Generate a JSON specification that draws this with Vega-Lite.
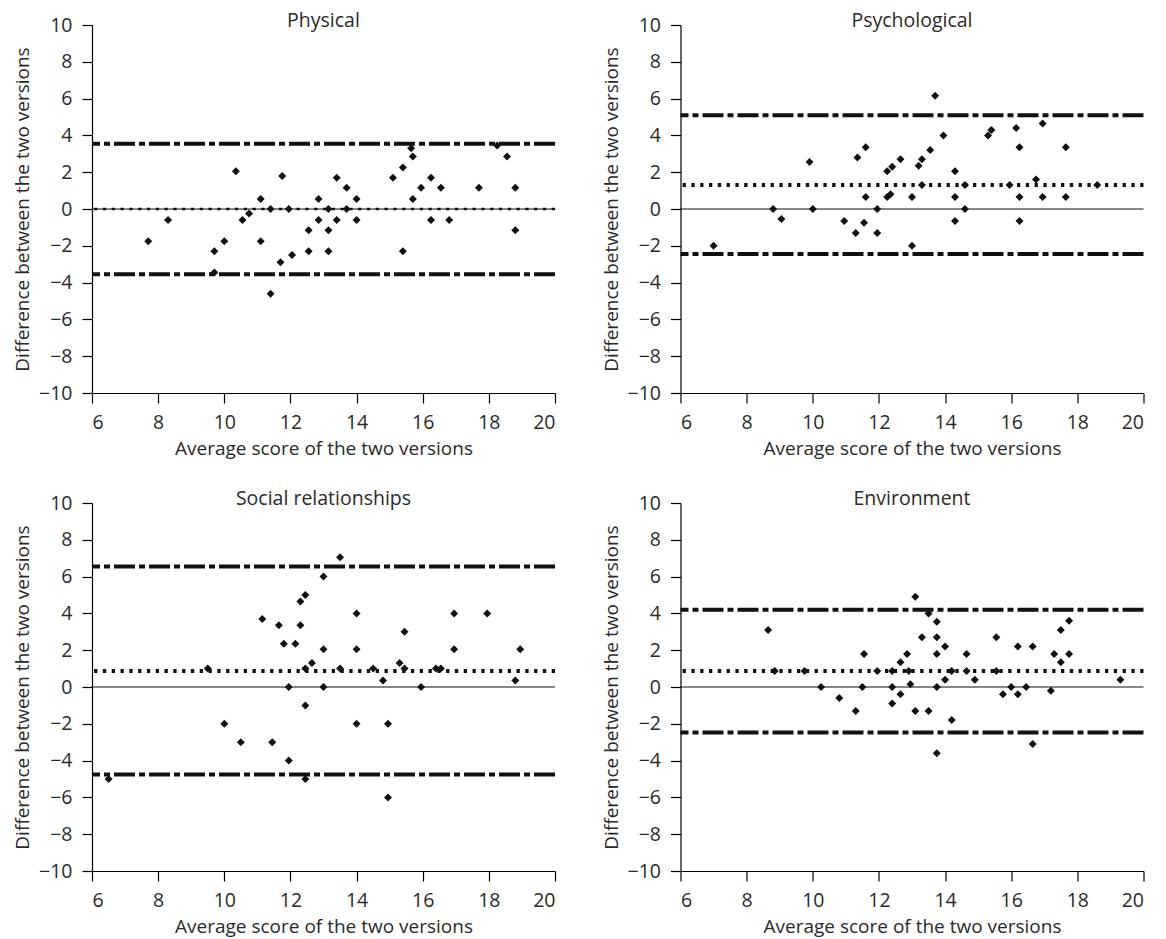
{
  "$schema": "https://vega.github.io/schema/vega-lite/v6.json",
  "padding": {"left": 13, "top": 10, "right": 5, "bottom": 5},
  "background": "white",
  "config": {
    "view": {"stroke": null},
    "font": "Open Sans",
    "axis": {"grid": false, "domainColor": "#000", "tickColor": "#000", "labelColor": "#2a2a2a", "titleColor": "#2a2a2a", "labelFontSize": 19.5, "titleFontSize": 19, "titleFontWeight": "normal", "tickSize": 10, "domainWidth": 1.2, "tickWidth": 1.2},
    "axisX": {"labelPadding": 10, "titlePadding": 8},
    "axisY": {"labelPadding": 10, "titlePadding": 6},
    "title": {"fontSize": 19.5, "fontWeight": "normal", "color": "#2a2a2a", "frame": "group", "anchor": "middle", "baseline": "alphabetic", "offset": -16}
  },
  "datasets": {
    "rows": [
      {"domain": "Physical", "kind": "zero", "diff": 0},
      {"domain": "Physical", "kind": "upper", "diff": 3.55},
      {"domain": "Physical", "kind": "mean", "diff": 0},
      {"domain": "Physical", "kind": "lower", "diff": -3.55},
      {"domain": "Psychological", "kind": "zero", "diff": 0},
      {"domain": "Psychological", "kind": "upper", "diff": 5.1},
      {"domain": "Psychological", "kind": "mean", "diff": 1.3},
      {"domain": "Psychological", "kind": "lower", "diff": -2.45},
      {"domain": "Social relationships", "kind": "zero", "diff": 0},
      {"domain": "Social relationships", "kind": "upper", "diff": 6.55},
      {"domain": "Social relationships", "kind": "mean", "diff": 0.87},
      {"domain": "Social relationships", "kind": "lower", "diff": -4.75},
      {"domain": "Environment", "kind": "zero", "diff": 0},
      {"domain": "Environment", "kind": "upper", "diff": 4.2},
      {"domain": "Environment", "kind": "mean", "diff": 0.87},
      {"domain": "Environment", "kind": "lower", "diff": -2.47},

      {"domain": "Physical", "avg": 7.7, "diff": -1.75},
      {"domain": "Physical", "avg": 8.3, "diff": -0.6},
      {"domain": "Physical", "avg": 9.7, "diff": -2.3},
      {"domain": "Physical", "avg": 9.7, "diff": -3.45},
      {"domain": "Physical", "avg": 10.0, "diff": -1.75},
      {"domain": "Physical", "avg": 10.35, "diff": 2.05},
      {"domain": "Physical", "avg": 10.55, "diff": -0.6},
      {"domain": "Physical", "avg": 10.75, "diff": -0.25},
      {"domain": "Physical", "avg": 11.1, "diff": 0.55},
      {"domain": "Physical", "avg": 11.1, "diff": -1.75},
      {"domain": "Physical", "avg": 11.4, "diff": 0},
      {"domain": "Physical", "avg": 11.4, "diff": -4.6},
      {"domain": "Physical", "avg": 11.75, "diff": 1.8},
      {"domain": "Physical", "avg": 11.7, "diff": -2.9},
      {"domain": "Physical", "avg": 11.95, "diff": 0},
      {"domain": "Physical", "avg": 12.05, "diff": -2.5},
      {"domain": "Physical", "avg": 12.55, "diff": -1.15},
      {"domain": "Physical", "avg": 12.55, "diff": -2.3},
      {"domain": "Physical", "avg": 12.85, "diff": 0.55},
      {"domain": "Physical", "avg": 12.85, "diff": -0.6},
      {"domain": "Physical", "avg": 13.15, "diff": 0},
      {"domain": "Physical", "avg": 13.15, "diff": -1.15},
      {"domain": "Physical", "avg": 13.15, "diff": -2.3},
      {"domain": "Physical", "avg": 13.4, "diff": 1.7},
      {"domain": "Physical", "avg": 13.4, "diff": -0.6},
      {"domain": "Physical", "avg": 13.7, "diff": 1.15},
      {"domain": "Physical", "avg": 13.7, "diff": 0},
      {"domain": "Physical", "avg": 14.0, "diff": 0.55},
      {"domain": "Physical", "avg": 14.0, "diff": -0.6},
      {"domain": "Physical", "avg": 15.1, "diff": 1.7},
      {"domain": "Physical", "avg": 15.4, "diff": 2.25},
      {"domain": "Physical", "avg": 15.4, "diff": -2.3},
      {"domain": "Physical", "avg": 15.65, "diff": 3.3},
      {"domain": "Physical", "avg": 15.7, "diff": 2.85},
      {"domain": "Physical", "avg": 15.7, "diff": 0.55},
      {"domain": "Physical", "avg": 15.95, "diff": 1.15},
      {"domain": "Physical", "avg": 16.25, "diff": 1.7},
      {"domain": "Physical", "avg": 16.25, "diff": -0.6},
      {"domain": "Physical", "avg": 16.55, "diff": 1.15},
      {"domain": "Physical", "avg": 16.8, "diff": -0.6},
      {"domain": "Physical", "avg": 17.7, "diff": 1.15},
      {"domain": "Physical", "avg": 18.25, "diff": 3.45},
      {"domain": "Physical", "avg": 18.55, "diff": 2.85},
      {"domain": "Physical", "avg": 18.8, "diff": 1.15},
      {"domain": "Physical", "avg": 18.8, "diff": -1.15},

      {"domain": "Psychological", "avg": 7.0, "diff": -2.0},
      {"domain": "Psychological", "avg": 8.8, "diff": 0},
      {"domain": "Psychological", "avg": 9.05, "diff": -0.55},
      {"domain": "Psychological", "avg": 9.9, "diff": 2.55},
      {"domain": "Psychological", "avg": 10.0, "diff": 0},
      {"domain": "Psychological", "avg": 10.95, "diff": -0.65},
      {"domain": "Psychological", "avg": 11.3, "diff": -1.3},
      {"domain": "Psychological", "avg": 11.35, "diff": 2.8},
      {"domain": "Psychological", "avg": 11.55, "diff": -0.75},
      {"domain": "Psychological", "avg": 11.6, "diff": 3.35},
      {"domain": "Psychological", "avg": 11.6, "diff": 0.65},
      {"domain": "Psychological", "avg": 11.95, "diff": 0},
      {"domain": "Psychological", "avg": 11.95, "diff": -1.3},
      {"domain": "Psychological", "avg": 12.25, "diff": 2.05},
      {"domain": "Psychological", "avg": 12.25, "diff": 0.65},
      {"domain": "Psychological", "avg": 12.4, "diff": 2.3},
      {"domain": "Psychological", "avg": 12.35, "diff": 0.8},
      {"domain": "Psychological", "avg": 12.65, "diff": 2.7},
      {"domain": "Psychological", "avg": 13.0, "diff": 0.65},
      {"domain": "Psychological", "avg": 13.0, "diff": -2.0},
      {"domain": "Psychological", "avg": 13.2, "diff": 2.35},
      {"domain": "Psychological", "avg": 13.3, "diff": 2.7},
      {"domain": "Psychological", "avg": 13.3, "diff": 1.3},
      {"domain": "Psychological", "avg": 13.55, "diff": 3.2},
      {"domain": "Psychological", "avg": 13.7, "diff": 6.15},
      {"domain": "Psychological", "avg": 13.95, "diff": 4.0},
      {"domain": "Psychological", "avg": 14.3, "diff": 2.05},
      {"domain": "Psychological", "avg": 14.3, "diff": 0.65},
      {"domain": "Psychological", "avg": 14.3, "diff": -0.65},
      {"domain": "Psychological", "avg": 14.6, "diff": 1.3},
      {"domain": "Psychological", "avg": 14.6, "diff": 0},
      {"domain": "Psychological", "avg": 15.3, "diff": 4.0},
      {"domain": "Psychological", "avg": 15.4, "diff": 4.3},
      {"domain": "Psychological", "avg": 15.95, "diff": 1.3},
      {"domain": "Psychological", "avg": 16.15, "diff": 4.4},
      {"domain": "Psychological", "avg": 16.25, "diff": 3.35},
      {"domain": "Psychological", "avg": 16.25, "diff": 0.65},
      {"domain": "Psychological", "avg": 16.25, "diff": -0.65},
      {"domain": "Psychological", "avg": 16.75, "diff": 1.6},
      {"domain": "Psychological", "avg": 16.95, "diff": 4.65},
      {"domain": "Psychological", "avg": 16.95, "diff": 0.65},
      {"domain": "Psychological", "avg": 17.65, "diff": 3.35},
      {"domain": "Psychological", "avg": 17.65, "diff": 0.65},
      {"domain": "Psychological", "avg": 18.6, "diff": 1.3},

      {"domain": "Social relationships", "avg": 6.5, "diff": -5.0},
      {"domain": "Social relationships", "avg": 9.5, "diff": 1.0},
      {"domain": "Social relationships", "avg": 10.0, "diff": -2.0},
      {"domain": "Social relationships", "avg": 10.5, "diff": -3.0},
      {"domain": "Social relationships", "avg": 11.15, "diff": 3.7},
      {"domain": "Social relationships", "avg": 11.45, "diff": -3.0},
      {"domain": "Social relationships", "avg": 11.65, "diff": 3.35},
      {"domain": "Social relationships", "avg": 11.8, "diff": 2.35},
      {"domain": "Social relationships", "avg": 11.95, "diff": 0},
      {"domain": "Social relationships", "avg": 11.95, "diff": -4.0},
      {"domain": "Social relationships", "avg": 12.15, "diff": 2.35},
      {"domain": "Social relationships", "avg": 12.3, "diff": 4.65},
      {"domain": "Social relationships", "avg": 12.3, "diff": 3.35},
      {"domain": "Social relationships", "avg": 12.45, "diff": 5.0},
      {"domain": "Social relationships", "avg": 12.45, "diff": 1.0},
      {"domain": "Social relationships", "avg": 12.45, "diff": -1.0},
      {"domain": "Social relationships", "avg": 12.45, "diff": -5.0},
      {"domain": "Social relationships", "avg": 12.65, "diff": 1.3},
      {"domain": "Social relationships", "avg": 13.0, "diff": 6.0},
      {"domain": "Social relationships", "avg": 13.0, "diff": 2.05},
      {"domain": "Social relationships", "avg": 13.0, "diff": 0},
      {"domain": "Social relationships", "avg": 13.5, "diff": 7.05},
      {"domain": "Social relationships", "avg": 13.5, "diff": 1.0},
      {"domain": "Social relationships", "avg": 14.0, "diff": 4.0},
      {"domain": "Social relationships", "avg": 14.0, "diff": 2.05},
      {"domain": "Social relationships", "avg": 14.0, "diff": -2.0},
      {"domain": "Social relationships", "avg": 14.5, "diff": 1.0},
      {"domain": "Social relationships", "avg": 14.8, "diff": 0.35},
      {"domain": "Social relationships", "avg": 14.95, "diff": -2.0},
      {"domain": "Social relationships", "avg": 14.95, "diff": -6.0},
      {"domain": "Social relationships", "avg": 15.3, "diff": 1.3},
      {"domain": "Social relationships", "avg": 15.45, "diff": 3.0},
      {"domain": "Social relationships", "avg": 15.45, "diff": 1.0},
      {"domain": "Social relationships", "avg": 15.95, "diff": 0},
      {"domain": "Social relationships", "avg": 16.4, "diff": 1.0},
      {"domain": "Social relationships", "avg": 16.55, "diff": 1.0},
      {"domain": "Social relationships", "avg": 16.95, "diff": 4.0},
      {"domain": "Social relationships", "avg": 16.95, "diff": 2.05},
      {"domain": "Social relationships", "avg": 17.95, "diff": 4.0},
      {"domain": "Social relationships", "avg": 18.8, "diff": 0.35},
      {"domain": "Social relationships", "avg": 18.95, "diff": 2.05},

      {"domain": "Environment", "avg": 8.65, "diff": 3.1},
      {"domain": "Environment", "avg": 8.85, "diff": 0.87},
      {"domain": "Environment", "avg": 9.75, "diff": 0.87},
      {"domain": "Environment", "avg": 10.25, "diff": 0},
      {"domain": "Environment", "avg": 10.8, "diff": -0.6},
      {"domain": "Environment", "avg": 11.3, "diff": -1.3},
      {"domain": "Environment", "avg": 11.5, "diff": 0},
      {"domain": "Environment", "avg": 11.55, "diff": 1.8},
      {"domain": "Environment", "avg": 11.95, "diff": 0.87},
      {"domain": "Environment", "avg": 12.4, "diff": 0.87},
      {"domain": "Environment", "avg": 12.4, "diff": 0},
      {"domain": "Environment", "avg": 12.4, "diff": -0.9},
      {"domain": "Environment", "avg": 12.65, "diff": 1.35},
      {"domain": "Environment", "avg": 12.65, "diff": -0.4},
      {"domain": "Environment", "avg": 12.85, "diff": 1.8},
      {"domain": "Environment", "avg": 12.9, "diff": 0.87},
      {"domain": "Environment", "avg": 12.95, "diff": 0.15},
      {"domain": "Environment", "avg": 13.1, "diff": 4.9},
      {"domain": "Environment", "avg": 13.1, "diff": -1.3},
      {"domain": "Environment", "avg": 13.3, "diff": 2.7},
      {"domain": "Environment", "avg": 13.5, "diff": 4.0},
      {"domain": "Environment", "avg": 13.5, "diff": -1.3},
      {"domain": "Environment", "avg": 13.75, "diff": 3.55},
      {"domain": "Environment", "avg": 13.75, "diff": 2.7},
      {"domain": "Environment", "avg": 13.75, "diff": 1.8},
      {"domain": "Environment", "avg": 13.75, "diff": 0},
      {"domain": "Environment", "avg": 13.75, "diff": -3.6},
      {"domain": "Environment", "avg": 14.0, "diff": 2.2},
      {"domain": "Environment", "avg": 14.0, "diff": 0.4},
      {"domain": "Environment", "avg": 14.2, "diff": 0.87},
      {"domain": "Environment", "avg": 14.2, "diff": -1.8},
      {"domain": "Environment", "avg": 14.65, "diff": 1.8},
      {"domain": "Environment", "avg": 14.65, "diff": 0.87},
      {"domain": "Environment", "avg": 14.9, "diff": 0.4},
      {"domain": "Environment", "avg": 15.55, "diff": 2.7},
      {"domain": "Environment", "avg": 15.55, "diff": 0.87},
      {"domain": "Environment", "avg": 15.75, "diff": -0.4},
      {"domain": "Environment", "avg": 16.0, "diff": 0},
      {"domain": "Environment", "avg": 16.2, "diff": 2.2},
      {"domain": "Environment", "avg": 16.2, "diff": -0.4},
      {"domain": "Environment", "avg": 16.45, "diff": 0},
      {"domain": "Environment", "avg": 16.65, "diff": 2.2},
      {"domain": "Environment", "avg": 16.65, "diff": -3.1},
      {"domain": "Environment", "avg": 17.2, "diff": -0.2},
      {"domain": "Environment", "avg": 17.3, "diff": 1.8},
      {"domain": "Environment", "avg": 17.5, "diff": 3.1},
      {"domain": "Environment", "avg": 17.5, "diff": 1.35},
      {"domain": "Environment", "avg": 17.75, "diff": 3.6},
      {"domain": "Environment", "avg": 17.75, "diff": 1.8},
      {"domain": "Environment", "avg": 19.3, "diff": 0.4}
    ]
  },
  "data": {"name": "rows"},
  "columns": 2,
  "bounds": "flush",
  "spacing": {"column": 125.5, "row": 110},
  "concat": [
    {
      "title": {"text": "Physical"},
      "transform": [{"filter": "datum.domain === 'Physical'"}],
      "width": 463, "height": 368,
      "encoding": {"y": {"field": "diff", "type": "quantitative", "scale": {"domain": [-10, 10], "nice": false, "zero": false}, "axis": {"title": "Difference between the two versions", "values": [-10, -8, -6, -4, -2, 0, 2, 4, 6, 8, 10]}}},
      "layer": [
        {"transform": [{"filter": "datum.kind === 'zero'"}], "mark": {"type": "rule", "stroke": "#111", "strokeWidth": 1.1}},
        {"transform": [{"filter": "datum.kind === 'upper' || datum.kind === 'lower'"}], "mark": {"type": "rule", "stroke": "#111", "strokeWidth": 4, "strokeDash": [21, 4, 6, 4]}},
        {"transform": [{"filter": "datum.kind === 'mean'"}], "mark": {"type": "rule", "stroke": "#111", "strokeWidth": 2.5, "strokeDash": [3.3, 5.5]}},
        {"transform": [{"filter": "isValid(datum.avg)"}], "mark": {"type": "point", "shape": "diamond", "filled": true, "size": 64, "color": "#111", "opacity": 1},
         "encoding": {"x": {"field": "avg", "type": "quantitative", "scale": {"domain": [6, 20], "nice": false, "zero": false}, "axis": {"title": "Average score of the two versions", "values": [6, 8, 10, 12, 14, 16, 18, 20]}}}}
      ]
    },
    {
      "title": {"text": "Psychological"},
      "transform": [{"filter": "datum.domain === 'Psychological'"}],
      "width": 463, "height": 368,
      "encoding": {"y": {"field": "diff", "type": "quantitative", "scale": {"domain": [-10, 10], "nice": false, "zero": false}, "axis": {"title": "Difference between the two versions", "values": [-10, -8, -6, -4, -2, 0, 2, 4, 6, 8, 10]}}},
      "layer": [
        {"transform": [{"filter": "datum.kind === 'zero'"}], "mark": {"type": "rule", "stroke": "#111", "strokeWidth": 1.1}},
        {"transform": [{"filter": "datum.kind === 'upper' || datum.kind === 'lower'"}], "mark": {"type": "rule", "stroke": "#111", "strokeWidth": 4, "strokeDash": [21, 4, 6, 4]}},
        {"transform": [{"filter": "datum.kind === 'mean'"}], "mark": {"type": "rule", "stroke": "#111", "strokeWidth": 4, "strokeDash": [3.3, 5.5]}},
        {"transform": [{"filter": "isValid(datum.avg)"}], "mark": {"type": "point", "shape": "diamond", "filled": true, "size": 64, "color": "#111", "opacity": 1},
         "encoding": {"x": {"field": "avg", "type": "quantitative", "scale": {"domain": [6, 20], "nice": false, "zero": false}, "axis": {"title": "Average score of the two versions", "values": [6, 8, 10, 12, 14, 16, 18, 20]}}}}
      ]
    },
    {
      "title": {"text": "Social relationships"},
      "transform": [{"filter": "datum.domain === 'Social relationships'"}],
      "width": 463, "height": 368,
      "encoding": {"y": {"field": "diff", "type": "quantitative", "scale": {"domain": [-10, 10], "nice": false, "zero": false}, "axis": {"title": "Difference between the two versions", "values": [-10, -8, -6, -4, -2, 0, 2, 4, 6, 8, 10]}}},
      "layer": [
        {"transform": [{"filter": "datum.kind === 'zero'"}], "mark": {"type": "rule", "stroke": "#111", "strokeWidth": 1.1}},
        {"transform": [{"filter": "datum.kind === 'upper' || datum.kind === 'lower'"}], "mark": {"type": "rule", "stroke": "#111", "strokeWidth": 4, "strokeDash": [21, 4, 6, 4]}},
        {"transform": [{"filter": "datum.kind === 'mean'"}], "mark": {"type": "rule", "stroke": "#111", "strokeWidth": 4, "strokeDash": [3.3, 5.5]}},
        {"transform": [{"filter": "isValid(datum.avg)"}], "mark": {"type": "point", "shape": "diamond", "filled": true, "size": 64, "color": "#111", "opacity": 1},
         "encoding": {"x": {"field": "avg", "type": "quantitative", "scale": {"domain": [6, 20], "nice": false, "zero": false}, "axis": {"title": "Average score of the two versions", "values": [6, 8, 10, 12, 14, 16, 18, 20]}}}}
      ]
    },
    {
      "title": {"text": "Environment"},
      "transform": [{"filter": "datum.domain === 'Environment'"}],
      "width": 463, "height": 368,
      "encoding": {"y": {"field": "diff", "type": "quantitative", "scale": {"domain": [-10, 10], "nice": false, "zero": false}, "axis": {"title": "Difference between the two versions", "values": [-10, -8, -6, -4, -2, 0, 2, 4, 6, 8, 10]}}},
      "layer": [
        {"transform": [{"filter": "datum.kind === 'zero'"}], "mark": {"type": "rule", "stroke": "#111", "strokeWidth": 1.1}},
        {"transform": [{"filter": "datum.kind === 'upper' || datum.kind === 'lower'"}], "mark": {"type": "rule", "stroke": "#111", "strokeWidth": 4, "strokeDash": [21, 4, 6, 4]}},
        {"transform": [{"filter": "datum.kind === 'mean'"}], "mark": {"type": "rule", "stroke": "#111", "strokeWidth": 4, "strokeDash": [3.3, 5.5]}},
        {"transform": [{"filter": "isValid(datum.avg)"}], "mark": {"type": "point", "shape": "diamond", "filled": true, "size": 64, "color": "#111", "opacity": 1},
         "encoding": {"x": {"field": "avg", "type": "quantitative", "scale": {"domain": [6, 20], "nice": false, "zero": false}, "axis": {"title": "Average score of the two versions", "values": [6, 8, 10, 12, 14, 16, 18, 20]}}}}
      ]
    }
  ]
}
